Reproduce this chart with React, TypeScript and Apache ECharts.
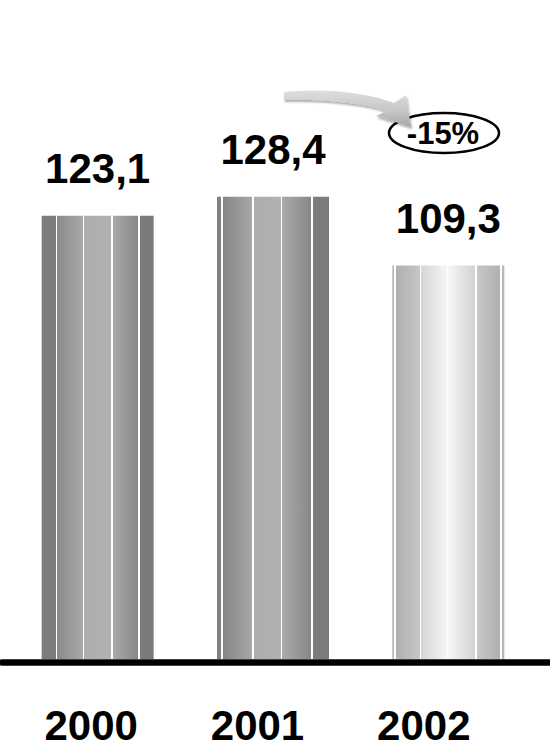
import React, { useEffect, useRef } from "react";
import * as echarts from "echarts";

// Yearly totals
const years = ["2000", "2001", "2002"];
const values = [123.1, 128.4, 109.3];

// Change from the previous year to the last year, shown in the oval badge
const lastChange = Math.round(
  ((values[2] - values[1]) / values[1]) * 100
);

const FONT = '"Liberation Sans", Arial, Helvetica, sans-serif';

// Curved grey arrow pointing at the badge
const ARROW_D =
  "M284,92 C322,88 366,92 394,103 L406,95 L411,127 L376,116 L386,111 C362,103 326,99 284,100 Z";
echarts.graphic.registerShape(
  "curvedArrow",
  (echarts.graphic as any).extendPath(ARROW_D, {})
);

type Stop = [number, string];

// Cylinder-like shading with thin white rulings for each bar
const W = "#ffffff";
const shading: Stop[][] = [
  [
    [0, "#7c7c7c"], [0.124, "#7c7c7c"], [0.124, W], [0.14, W],
    [0.14, "#8a8a8a"], [0.366, "#a9a9a9"], [0.366, W], [0.382, W],
    [0.382, "#adadad"], [0.622, "#b2b2b2"], [0.622, W], [0.638, W],
    [0.638, "#a9a9a9"], [0.864, "#878787"], [0.864, W], [0.88, W],
    [0.88, "#7a7a7a"], [1, "#7a7a7a"],
  ],
  [
    [0, "#808080"], [0.034, "#808080"], [0.034, W], [0.05, W],
    [0.05, "#858585"], [0.31, "#a7a7a7"], [0.31, W], [0.326, W],
    [0.326, "#adadad"], [0.568, "#b1b1b1"], [0.568, W], [0.584, W],
    [0.584, "#aaaaaa"], [0.838, "#888888"], [0.838, W], [0.854, W],
    [0.854, "#7d7d7d"], [1, "#7b7b7b"],
  ],
  [
    [0, "#b5b5b5"], [0.018, "#b5b5b5"], [0.018, W], [0.034, W],
    [0.034, "#b0b0b0"], [0.244, "#c6c6c6"], [0.244, W], [0.26, W],
    [0.26, "#d6d6d6"], [0.49, "#f6f6f6"], [0.49, "#fdfdfd"], [0.5, "#fdfdfd"],
    [0.5, "#f6f6f6"], [0.74, "#d2d2d2"], [0.74, W], [0.756, W],
    [0.756, "#c8c8c8"], [0.964, "#b0b0b0"], [0.964, W], [0.98, W],
    [0.98, "#b8b8b8"], [1, "#b8b8b8"],
  ],
];

const gradientFor = (i: number) => ({
  type: "linear",
  x: 0,
  y: 0,
  x2: 1,
  y2: 0,
  colorStops: shading[i].map(([offset, color]) => ({ offset, color })),
});

export default function App() {
  const ref = useRef<HTMLDivElement>(null);

  useEffect(() => {
    document.body.style.margin = "0";
    if (!ref.current) return;
    const chart = echarts.init(ref.current, undefined, { renderer: "svg" });

    chart.setOption({
      animation: false,
      backgroundColor: "#ffffff",
      grid: [
        // bars
        { left: 10, right: 14, top: 11, bottom: 88 },
        // long baseline
        { left: 2, right: 1, top: 11, bottom: 85 },
        // year labels
        { left: 8, right: 43, top: 11, bottom: 88 },
      ],
      xAxis: [
        {
          type: "category",
          gridIndex: 0,
          data: years,
          axisLine: { show: false },
          axisTick: { show: false },
          axisLabel: { show: false },
        },
        {
          type: "value",
          gridIndex: 1,
          min: 0,
          max: 1,
          axisLine: {
            show: true,
            onZero: false,
            lineStyle: { color: "#000000", width: 6.5 },
          },
          axisTick: { show: false },
          axisLabel: { show: false },
          splitLine: { show: false },
        },
        {
          type: "category",
          gridIndex: 2,
          data: years,
          axisLine: { show: false },
          axisTick: { show: false },
          axisLabel: {
            show: true,
            margin: 45,
            fontSize: 42,
            fontWeight: "bold",
            fontFamily: FONT,
            color: "#000000",
          },
        },
      ],
      yAxis: [
        { type: "value", gridIndex: 0, min: 0, max: 180, show: false },
        { type: "value", gridIndex: 1, min: 0, max: 1, show: false },
        { type: "value", gridIndex: 2, min: 0, max: 1, show: false },
      ],
      series: [
        {
          type: "bar",
          xAxisIndex: 0,
          yAxisIndex: 0,
          barWidth: 112,
          data: values.map((v, i) => ({
            value: v,
            itemStyle: { color: gradientFor(i) },
          })),
          label: {
            show: true,
            position: "top",
            distance: 26,
            fontSize: 42,
            fontWeight: "bold",
            fontFamily: FONT,
            color: "#000000",
            formatter: (p: any) => Number(p.value).toFixed(1).replace(".", ","),
          },
        },
      ],
      graphic: [
        {
          type: "ellipse",
          shape: { cx: 444, cy: 133, rx: 55, ry: 20 },
          style: { fill: "#ffffff", stroke: "#000000", lineWidth: 2.5 },
          z: 10,
        },
        {
          type: "text",
          x: 443,
          y: 133,
          style: {
            text: `${lastChange}%`,
            textAlign: "center",
            textVerticalAlign: "middle",
            font: `bold 31px ${FONT}`,
            fill: "#000000",
          },
          z: 11,
        },
        {
          type: "curvedArrow",
          x: 0,
          y: 0,
          style: {
            fill: {
              type: "linear",
              x: 0,
              y: 0,
              x2: 0,
              y2: 1,
              colorStops: [
                { offset: 0, color: "#dedede" },
                { offset: 0.6, color: "#c4c4c4" },
                { offset: 1, color: "#a6a6a6" },
              ],
            },
            shadowColor: "rgba(0,0,0,0.35)",
            shadowBlur: 2,
            shadowOffsetX: 1,
            shadowOffsetY: 2,
          },
          z: 12,
        },
      ],
    });

    return () => chart.dispose();
  }, []);

  return <div ref={ref} style={{ width: 550, height: 747 }} />;
}
